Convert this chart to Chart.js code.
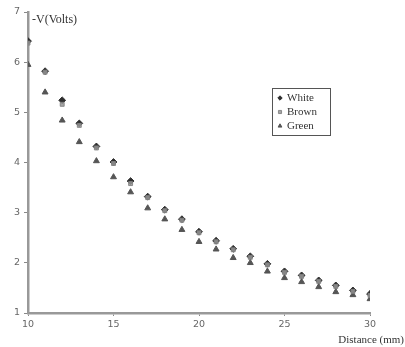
<!DOCTYPE html>
<html>
<head>
<meta charset="utf-8">
<script src="https://cdn.jsdelivr.net/npm/chart.js@4"></script>
<style>
  html, body { margin: 0; padding: 0; background: #fff; }
  #wrap { width: 405px; height: 347px; }
</style>
</head>
<body>
<div id="wrap"><canvas id="chart"></canvas></div>
<script>
// distance in mm
const distance = [10, 11, 12, 13, 14, 15, 16, 17, 18, 19, 20, 21, 22, 23, 24, 25, 26, 27, 28, 29, 30];
// -V readings per wire
const white = [6.42, 5.82, 5.24, 4.78, 4.32, 4.01, 3.63, 3.32, 3.06, 2.87, 2.62, 2.44, 2.28, 2.13, 1.98, 1.83, 1.75, 1.65, 1.55, 1.45, 1.38];
const brown = [6.38, 5.80, 5.16, 4.74, 4.29, 3.98, 3.58, 3.30, 3.04, 2.85, 2.60, 2.42, 2.26, 2.11, 1.96, 1.81, 1.73, 1.63, 1.53, 1.43, 1.35];
const green = [5.95, 5.40, 4.84, 4.41, 4.03, 3.71, 3.41, 3.09, 2.87, 2.66, 2.42, 2.27, 2.10, 2.00, 1.83, 1.70, 1.62, 1.52, 1.42, 1.36, 1.28];
const xTicks = [10, 15, 20, 25, 30];
const yTicks = [1, 2, 3, 4, 5, 6, 7];

function pts(vals) {
  return distance.map((d, i) => ({ x: d, y: vals[i] }));
}

// order: brown drawn over white, like the reference
const series = [
  { label: 'White', data: pts(white), order: 2, pointStyle: 'rectRot', pointRadius: 3.4, backgroundColor: '#2e2e2e', borderColor: '#2e2e2e' },
  { label: 'Brown', data: pts(brown), order: 1, pointStyle: 'rect', pointRadius: 2.8, backgroundColor: 'rgba(150,150,150,0.85)', borderColor: 'rgba(130,130,130,0.9)' },
  { label: 'Green', data: pts(green), order: 3, pointStyle: 'triangle', pointRadius: 3.4, backgroundColor: '#555', borderColor: '#555' }
];

// titles and legend box drawn on the canvas
const extras = {
  id: 'extras',
  afterDraw(chart) {
    const ctx = chart.ctx;
    const area = chart.chartArea;
    ctx.save();
    ctx.fillStyle = '#333';
    ctx.font = '12px "Liberation Serif"';
    ctx.textBaseline = 'middle';
    ctx.textAlign = 'left';
    ctx.fillText('-V(Volts)', area.left + 4, area.top + 8);
    ctx.font = '11px "Liberation Serif"';
    ctx.textAlign = 'right';
    ctx.fillText('Distance (mm)', 404, 340);

    // legend
    const bx = 272, by = 88, bw = 58, bh = 47;
    ctx.strokeStyle = '#555';
    ctx.lineWidth = 1;
    ctx.strokeRect(bx + 0.5, by + 0.5, bw, bh);
    ctx.textAlign = 'left';
    [0, 1, 2].forEach((i) => {
      const ds = chart.data.datasets[i];
      const y = by + 10 + i * 14;
      ctx.fillStyle = ds.backgroundColor;
      ctx.strokeStyle = ds.borderColor;
      Chart.helpers.drawPoint(ctx, { pointStyle: ds.pointStyle, radius: 2.2, borderWidth: 1 }, bx + 8, y);
      ctx.fillStyle = '#333';
      ctx.fillText(ds.label, bx + 15, y);
    });
    ctx.restore();
  }
};

new Chart(document.getElementById('chart'), {
  type: 'scatter',
  data: { datasets: series },
  options: {
    responsive: true,
    maintainAspectRatio: false,
    animation: false,
    layout: { padding: { top: 12, right: 35, left: 0, bottom: 0 } },
    plugins: { legend: { display: false }, tooltip: { enabled: false } },
    scales: {
      x: {
        type: 'linear',
        min: 10, max: 30,
        afterBuildTicks: (s) => { s.ticks = xTicks.map(v => ({ value: v })); },
        afterFit: (s) => { s.height = 34; },
        grid: { drawOnChartArea: false, tickLength: 3, color: '#888', lineWidth: 1 },
        border: { color: '#999', width: 2.5 },
        ticks: { color: '#666', font: { family: 'DejaVu Sans', size: 9.5 }, padding: 3, maxRotation: 0 }
      },
      y: {
        min: 1, max: 7,
        afterBuildTicks: (s) => { s.ticks = yTicks.map(v => ({ value: v })); },
        afterFit: (s) => { s.width = 28; },
        grid: { drawOnChartArea: false, tickLength: 4, color: '#888', lineWidth: 1 },
        border: { color: '#999', width: 2.5 },
        ticks: { color: '#666', font: { family: 'DejaVu Sans', size: 9.5 }, padding: 4 }
      }
    }
  },
  plugins: [extras]
});
</script>
</body>
</html>
